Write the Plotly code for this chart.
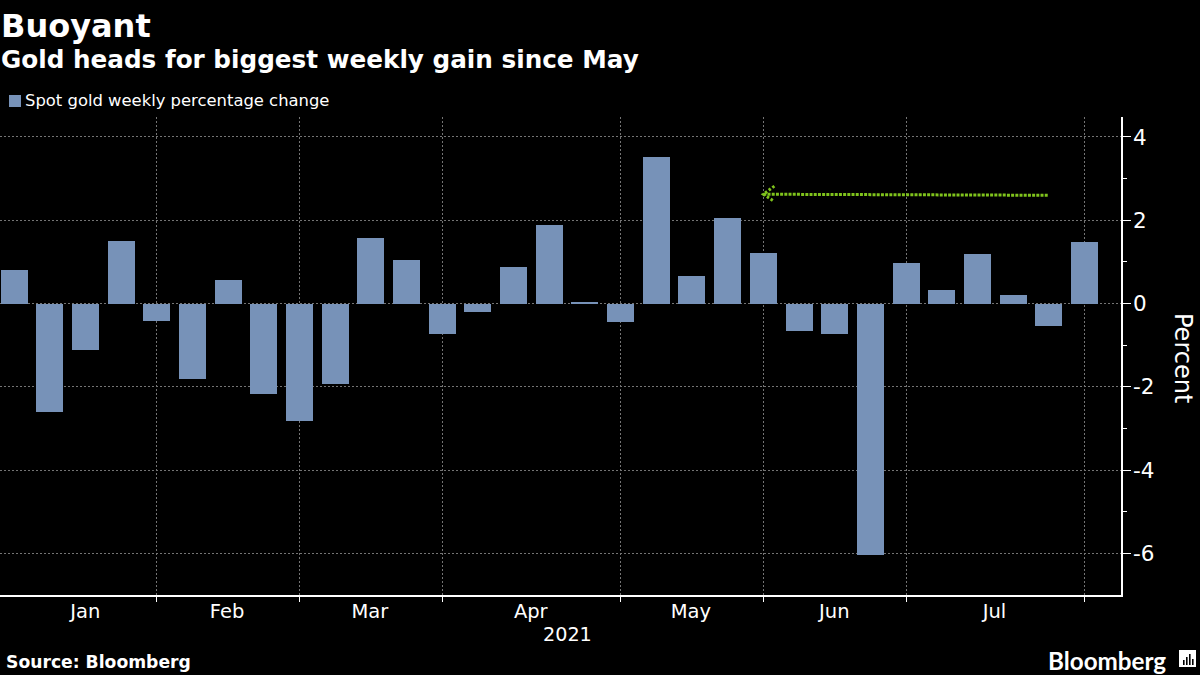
import datetime as dt
import plotly.graph_objects as go

START = dt.date(2021, 1, 1)
weekly_change = [0.8, -2.6, -1.12, 1.5, -0.42, -1.82, 0.57, -2.17, -2.82, -1.93, 1.57, 1.05,
                 -0.72, -0.2, 0.87, 1.88, 0.03, -0.45, 3.53, 0.66, 2.05, 1.22, -0.65, -0.73,
                 -6.03, 0.97, 0.32, 1.18, 0.2, -0.55, 1.47]
weeks = [START + dt.timedelta(days=7 * i) for i in range(len(weekly_change))]

month_labels = ["Jan", "Feb", "Mar", "Apr", "May", "Jun", "Jul"]
month_label_dates = ["2021-01-15 00:00", "2021-02-11 19:00", "2021-03-11 19:00", "2021-04-12 09:00",
                     "2021-05-13 19:00", "2021-06-10 22:00", "2021-07-12 08:00"]
month_boundaries = ["2021-01-29", "2021-02-26", "2021-03-26", "2021-04-30", "2021-05-28", "2021-06-25", "2021-07-30"]
y_major = [-6, -4, -2, 0, 2, 4]
y_labels = ["-6", "-4", "-2", "0", "2", "4"]
y_minor = [-5, -3, -1, 1, 3]

arrow_x = ["2021-05-28", "2021-07-23"]
arrow_y = [2.625, 2.6]
head_x = ["2021-05-30 04:00", "2021-05-28", "2021-05-30 04:00"]
head_y = [2.82, 2.625, 2.45]
AXIS_END = "2021-08-06 04:00"
POINTER_X = "2021-08-06 22:00"

BG = "#000000"
WHITE = "#ffffff"
BAR = "#7792b8"
GRID = "#747474"
GREEN = "#7fc31c"
FONT = "DejaVu Sans"

fig = go.Figure()
fig.add_trace(go.Bar(x=weeks, y=weekly_change, marker_color=BAR, marker_line_width=0,
                     name="Spot gold weekly percentage change", width=27 / 35.7 * 7 * 86400000))
fig.add_trace(go.Scatter(x=arrow_x, y=arrow_y, mode="lines",
                         line=dict(color=GREEN, width=3, dash="3px 1.2px"), showlegend=False))
fig.add_trace(go.Scatter(x=head_x, y=head_y, mode="lines",
                         line=dict(color=GREEN, width=3, dash="2.5px 2px"), showlegend=False))
fig.add_trace(go.Scatter(x=[POINTER_X] * len(y_major), y=y_major, mode="markers", cliponaxis=False,
                         marker=dict(symbol="triangle-right", size=8, color=WHITE, line_width=0),
                         showlegend=False))

fig.update_layout(
    width=1200, height=675, paper_bgcolor=BG, plot_bgcolor=BG,
    margin=dict(l=0, r=79, t=117, b=80), autosize=False, showlegend=False, bargap=0,
    font=dict(family=FONT, color=WHITE, size=18),
    xaxis=dict(type="date", range=["2020-12-29 06:00", AXIS_END],
               tickmode="array", tickvals=month_label_dates, ticktext=month_labels,
               ticks="", showgrid=False, showline=True, linecolor=WHITE, linewidth=1.5,
               tickfont=dict(size=19.5, color=WHITE), zeroline=False, ticklabelstandoff=-2,
               minor=dict(tickmode="array", tickvals=month_boundaries, ticks="outside", ticklen=5,
                          tickcolor=WHITE, tickwidth=1, showgrid=True, gridcolor=GRID,
                          griddash="2px 2px", gridwidth=1)),
    yaxis=dict(side="right", range=[-7, 4.48], tickmode="array", tickvals=y_major, ticktext=y_labels,
               ticks="outside", ticklen=8, tickcolor=WHITE, tickwidth=1,
               showgrid=True, gridcolor=GRID, griddash="2px 2px", gridwidth=1,
               showline=True, linecolor=WHITE, linewidth=1.5, zeroline=False,
               tickfont=dict(size=21.5, color=WHITE), ticklabelstandoff=-2,
               minor=dict(tickmode="array", tickvals=y_minor, ticks="outside", ticklen=4,
                          tickcolor=WHITE, tickwidth=1, showgrid=False)),
)


def paper_x(p):
    return p / 1121


def paper_y(p):
    return (595 - p) / (595 - 117)


notes = [
    ("<b>Buoyant</b>", 1, 26, 32, FONT),
    ("<b>Gold heads for biggest weekly gain since May</b>", 1, 60, 24.7, FONT),
    ("Spot gold weekly percentage change", 25, 101, 16.4, FONT),
    ("2021", 543, 634, 19.2, FONT),
    ("<b>Source: Bloomberg</b>", 6, 662, 17.2, FONT),
    ("<b>Bloomberg</b>", 1048, 660, 24.2, "Lato"),
]
for text, x, y, size, family in notes:
    fig.add_annotation(text=text, x=paper_x(x), y=paper_y(y), xref="paper", yref="paper",
                       xanchor="left", yanchor="middle", showarrow=False,
                       font=dict(size=size, color=WHITE, family=family), borderpad=0, borderwidth=0)
fig.add_annotation(text="Percent", x=paper_x(1183), y=paper_y(358), xref="paper", yref="paper",
                   xanchor="center", yanchor="middle", showarrow=False, textangle=90,
                   font=dict(size=24, color=WHITE, family=FONT))

# legend swatch and logo glyph
fig.add_shape(type="rect", xref="paper", yref="paper", x0=paper_x(9), x1=paper_x(21),
              y0=paper_y(107), y1=paper_y(95), fillcolor=BAR, line_width=0)
fig.add_shape(type="rect", xref="paper", yref="paper", x0=paper_x(1179), x1=paper_x(1196),
              y0=paper_y(667), y1=paper_y(650), fillcolor=WHITE, line_width=0)
for x, top in [(1183, 660), (1186, 657), (1189, 654), (1192, 659)]:
    fig.add_shape(type="rect", xref="paper", yref="paper", x0=paper_x(x), x1=paper_x(x + 1.6),
                  y0=paper_y(665), y1=paper_y(top), fillcolor=BG, line_width=0)

fig.write_html("out.html", config={"displayModeBar": False},
               post_script="document.body.style.margin='0';document.body.style.overflow='hidden';")
